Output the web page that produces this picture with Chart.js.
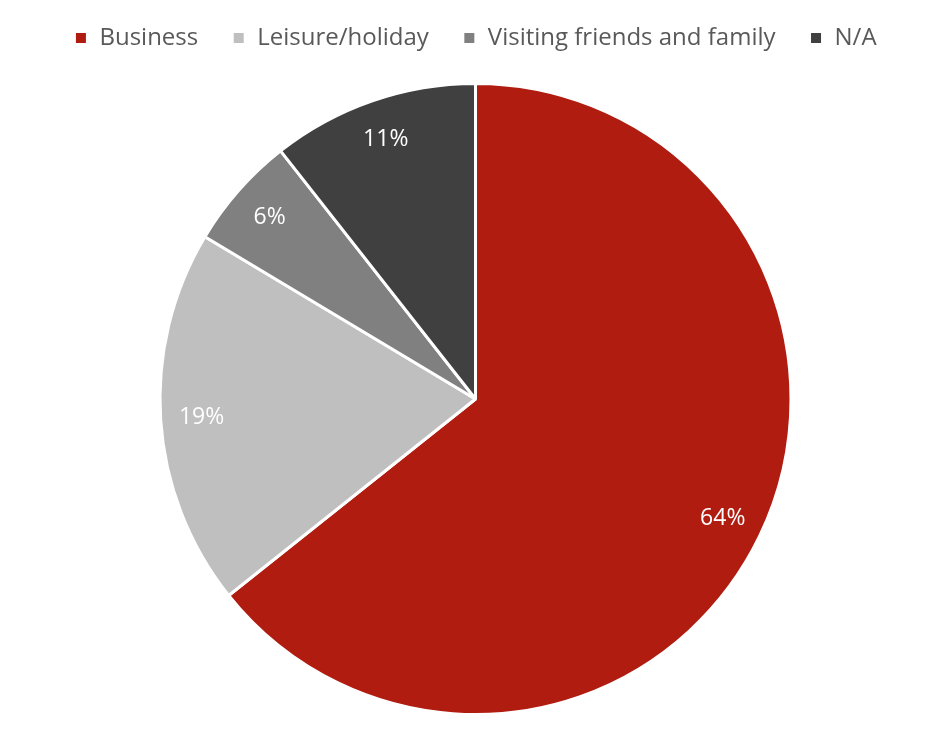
<!DOCTYPE html>
<html>
<head>
<meta charset="utf-8">
<script src="https://cdn.jsdelivr.net/npm/chart.js@4/dist/chart.umd.min.js"></script>
<style>
  html, body { margin: 0; padding: 0; background: #fff; }
  #wrap { width: 951px; height: 738px; position: relative; }
</style>
</head>
<body>
<div id="wrap"><canvas id="pie-chart"></canvas></div>
<script>
// data (slice angles), labels are rounded
const categories = ["Business", "Leisure/holiday", "Visiting friends and family", "N/A"];
const shares = [64.3, 19.3, 5.8, 10.6];
const sliceColors = ["#B01C10", "#BFBFBF", "#808080", "#404040"];

const fontFamily = "'Open Sans', Lato, sans-serif";

// draws the percent labels inside each slice
const sliceLabels = {
  id: "sliceLabels",
  afterDatasetsDraw(chart) {
    const ctx = chart.ctx;
    const meta = chart.getDatasetMeta(0);
    ctx.save();
    ctx.font = "23px " + fontFamily;
    ctx.fillStyle = "#fff";
    ctx.textAlign = "center";
    ctx.textBaseline = "middle";
    meta.data.forEach((arc, i) => {
      const mid = (arc.startAngle + arc.endAngle) / 2;
      const r = arc.outerRadius * 0.87;
      ctx.fillText(Math.round(shares[i]) + "%", arc.x + Math.cos(mid) * r, arc.y + Math.sin(mid) * r);
    });
    ctx.restore();
  },
};

// extra room between legend and pie
const legendGap = {
  id: "legendGap",
  beforeInit(chart) {
    const fit = chart.legend.fit;
    chart.legend.fit = function () {
      fit.bind(chart.legend)();
      this.height += 22;
    };
  },
};

const ctx = document.getElementById("pie-chart").getContext("2d");
new Chart(ctx, {
  type: "pie",
  data: {
    labels: categories,
    datasets: [
      {
        data: shares,
        backgroundColor: sliceColors,
        borderColor: "#fff",
        borderWidth: 3,
      },
    ],
  },
  options: {
    responsive: true,
    maintainAspectRatio: false,
    animation: false,
    layout: { padding: { top: -8, bottom: 22 } },
    plugins: {
      tooltip: { enabled: false },
      legend: {
        position: "top",
        labels: {
          boxWidth: 13,
          boxHeight: 13,
          padding: 34,
          color: "#595959",
          font: { family: fontFamily, size: 24 },
        },
      },
    },
  },
  plugins: [sliceLabels, legendGap],
});
</script>
</body>
</html>
